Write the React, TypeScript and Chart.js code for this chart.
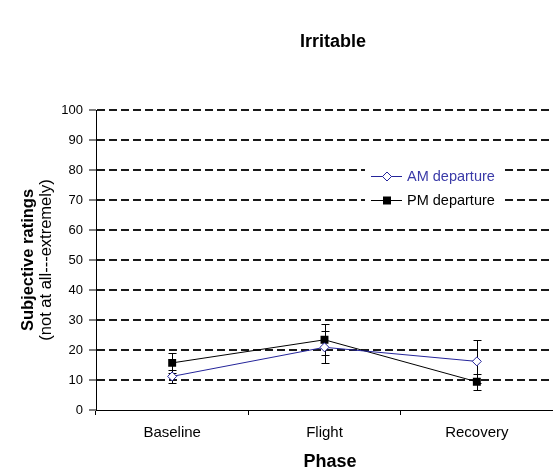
import React, { useEffect, useRef } from "react";
import { Chart, registerables } from "chart.js";

Chart.register(...registerables);

const categories = ["Baseline", "Flight", "Recovery"];
const amValues = [11.2, 20.9, 16.2];
const amErrors = [2.3, 5.3, 7.1];
const pmValues = [15.7, 23.4, 9.4];
const pmErrors = [3.3, 5.2, 2.6];
const seriesNames = ["AM departure", "PM departure"];
const yTicks = [0, 10, 20, 30, 40, 50, 60, 70, 80, 90, 100];

const BLUE = "#24249a";
const FONT = "'Liberation Sans', Arial, sans-serif";

const errorBars = {
  id: "errorBars",
  beforeDatasetsDraw(chart: any) {
    const ctx = chart.ctx;
    const y = chart.scales.y;
    const errs = [amErrors, pmErrors];
    ctx.save();
    ctx.strokeStyle = "#000";
    ctx.lineWidth = 1;
    chart.data.datasets.forEach((ds: any, i: number) => {
      const meta = chart.getDatasetMeta(i);
      meta.data.forEach((pt: any, j: number) => {
        const v = ds.data[j];
        const e = errs[i][j];
        const x = Math.round(pt.x) + 0.5;
        const yt = Math.round(y.getPixelForValue(v + e)) + 0.5;
        const yb = Math.round(y.getPixelForValue(v - e)) + 0.5;
        ctx.beginPath();
        ctx.moveTo(x, yt);
        ctx.lineTo(x, yb);
        ctx.moveTo(x - 4, yt);
        ctx.lineTo(x + 4, yt);
        ctx.moveTo(x - 4, yb);
        ctx.lineTo(x + 4, yb);
        ctx.stroke();
      });
    });
    ctx.restore();
  },
};

const texts = {
  id: "texts",
  afterDraw(chart: any) {
    const ctx = chart.ctx;
    const area = chart.chartArea;
    const midY = (area.top + area.bottom) / 2;
    ctx.save();
    ctx.fillStyle = "#000";
    ctx.textAlign = "center";
    ctx.textBaseline = "alphabetic";
    ctx.font = `bold 18px ${FONT}`;
    ctx.fillText("Irritable", 333, 47);
    ctx.fillText("Phase", 330, 467);
    // y title
    ctx.save();
    ctx.rotate(-Math.PI / 2);
    ctx.font = `bold 16.5px ${FONT}`;
    ctx.fillText("Subjective ratings", -midY, 33);
    ctx.font = `16.5px ${FONT}`;
    ctx.fillText("(not at all---extremely)", -midY, 51);
    ctx.restore();

    // legend
    const lx0 = 365, lx1 = 505;
    ctx.fillStyle = "#fff";
    ctx.fillRect(lx0, 164, lx1 - lx0, 48);
    const rows = [176.5, 200.5];
    const colors = [BLUE, "#000"];
    rows.forEach((ry, i) => {
      ctx.strokeStyle = colors[i];
      ctx.lineWidth = 1;
      ctx.beginPath();
      ctx.moveTo(371, ry);
      ctx.lineTo(402, ry);
      ctx.stroke();
      const cx = 387;
      if (i === 0) {
        ctx.fillStyle = "#fff";
        ctx.beginPath();
        ctx.moveTo(cx, ry - 4.5);
        ctx.lineTo(cx + 4.5, ry);
        ctx.lineTo(cx, ry + 4.5);
        ctx.lineTo(cx - 4.5, ry);
        ctx.closePath();
        ctx.fill();
        ctx.stroke();
      } else {
        ctx.fillStyle = "#000";
        ctx.fillRect(cx - 4, ry - 4, 8, 8);
      }
      ctx.fillStyle = i === 0 ? "#3a3aa8" : "#000";
      ctx.textAlign = "left";
      ctx.textBaseline = "middle";
      ctx.font = `14.5px ${FONT}`;
      ctx.fillText(seriesNames[i], 407, ry);
    });
    ctx.restore();
  },
};

export default function App() {
  const ref = useRef<HTMLCanvasElement>(null);
  useEffect(() => {
    if (!ref.current) return;
    const chart = new Chart(ref.current, {
      type: "line",
      data: {
        labels: categories,
        datasets: [
          {
            label: seriesNames[0],
            data: amValues,
            borderColor: BLUE,
            borderWidth: 1,
            backgroundColor: "#fff",
            pointStyle: "rectRot",
            pointRadius: 4.5,
            pointBorderWidth: 1,
            pointBorderColor: BLUE,
            pointBackgroundColor: "#fff",
            tension: 0,
          },
          {
            label: seriesNames[1],
            data: pmValues,
            borderColor: "#000",
            borderWidth: 1,
            backgroundColor: "#000",
            pointStyle: "rect",
            pointRadius: 5.6,
            pointBorderWidth: 0,
            pointBackgroundColor: "#000",
            tension: 0,
          },
        ],
      },
      options: {
        responsive: false,
        animation: false,
        layout: { autoPadding: false, padding: { left: 0, top: 110, right: 0, bottom: 0 } },
        plugins: {
          legend: { display: false },
          title: { display: false },
          tooltip: { enabled: false },
        },
        scales: {
          x: {
            type: "category",
            offset: true,
            afterFit: (s: any) => {
              s.height = 62;
              s.paddingLeft = 0;
              s.paddingRight = 0;
            },
            grid: {
              display: true,
              drawOnChartArea: false,
              offset: true,
              tickLength: 5,
              color: "#000",
            },
            border: { color: "#000", width: 1 },
            ticks: {
              color: "#000",
              padding: 9,
              font: { family: FONT, size: 15 },
            },
          },
          y: {
            min: 0,
            max: 100,
            afterFit: (s: any) => {
              s.width = 96;
            },
            afterBuildTicks: (s: any) => {
              s.ticks = yTicks.map((v) => ({ value: v }));
            },
            grid: {
              color: (c: any) => (c.tick && c.tick.value === 0 ? "rgba(0,0,0,0)" : "#1a1a1a"),
              lineWidth: 2,
              tickColor: "#000",
              tickWidth: 1,
              tickLength: 7,
            },
            border: { color: "#000", width: 1, dash: [8, 4] },
            ticks: {
              color: "#000",
              padding: 6,
              font: { family: FONT, size: 13 },
            },
          },
        },
      },
      plugins: [errorBars, texts],
    });
    return () => chart.destroy();
  }, []);
  return (
    <div style={{ position: "absolute", left: 0, top: 0, width: 553, height: 472, background: "#fff" }}>
      <canvas ref={ref} width={553} height={472} />
    </div>
  );
}
